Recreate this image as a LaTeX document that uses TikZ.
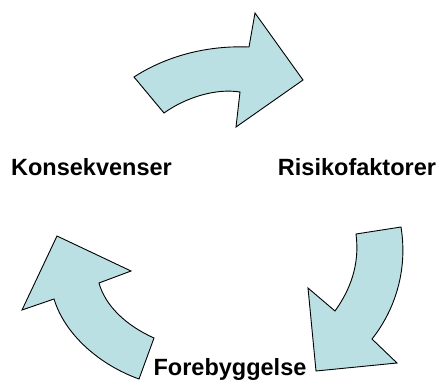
\documentclass[tikz,border=0pt]{standalone}
\usepackage{fontspec}
\setmainfont{Liberation Sans}
\definecolor{arrowfill}{RGB}{187,224,227}
\begin{document}
\begin{tikzpicture}[x=1pt,y=-1pt,
  cyclearrow/.style={draw=black,fill=arrowfill,line width=0.9pt,line join=miter},
  lbl/.style={font=\fontsize{23.5}{28}\selectfont\bfseries,inner sep=0pt,anchor=base}]
\useasboundingbox (0,0) rectangle (444,383);
% top arrow
\draw[cyclearrow] (134,77) .. controls (160,60) and (200,45) .. (249,47)
  -- (255,13) -- (303,80) -- (236,127) -- (240,92)
  .. controls (215,88) and (185,98) .. (164,113) -- cycle;
% right arrow
\draw[cyclearrow] (356,234) -- (401,227)
  .. controls (408,270) and (395,310) .. (372,339)
  -- (397,363) -- (316,371) -- (308,288) -- (335,311)
  .. controls (350,290) and (360,265) .. (356,234) -- cycle;
% left arrow
\draw[cyclearrow] (57,236) -- (131,271) -- (99,283)
  .. controls (105,305) and (125,325) .. (154,338)
  -- (139,379)
  .. controls (100,365) and (65,335) .. (54,299)
  -- (22,310) -- cycle;
\node[lbl] (kons) at (91.5,175) {Konsekvenser};
\node[lbl] (risk) at (357,175) {Risikofaktorer};
\node[lbl] (fore) at (230,375) {Forebyggelse};
\end{tikzpicture}
\end{document}
